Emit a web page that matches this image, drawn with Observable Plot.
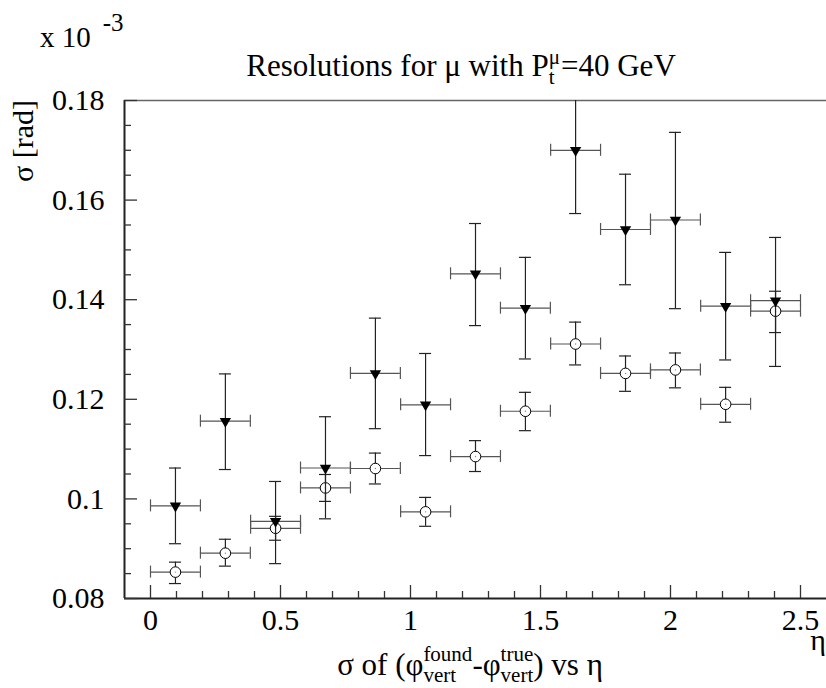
<!DOCTYPE html>
<html><head><meta charset="utf-8">
<script src="https://cdn.jsdelivr.net/npm/d3@7"></script>
<script src="https://cdn.jsdelivr.net/npm/@observablehq/plot@0.6"></script>
<style>body{margin:0;background:#fff}</style>
</head><body><div id="chart"></div>
<script>
// eta bin centres (13 bins from 0 to 2.5) and half bin width
const eta = [0.096, 0.288, 0.481, 0.673, 0.865, 1.058, 1.25, 1.442, 1.635, 1.827, 2.019, 2.212, 2.404];
const etaHalfWidth = 0.096;

// filled down-triangles
const triSigma = [0.0986, 0.1156, 0.0955, 0.1062, 0.1252, 0.1189, 0.1452, 0.1383, 0.1700, 0.1541, 0.1560, 0.1387, 0.1398];
const triLo    = [0.0910, 0.1059, 0.0870, 0.0960, 0.1141, 0.1087, 0.1348, 0.1281, 0.1573, 0.1430, 0.1382, 0.1279, 0.1266];
const triHi    = [0.1062, 0.1251, 0.1035, 0.1165, 0.1363, 0.1292, 0.1553, 0.1485, 0.1827, 0.1652, 0.1736, 0.1495, 0.1525];

// open circles
const circSigma = [0.0853, 0.0891, 0.0941, 0.1022, 0.1061, 0.0974, 0.1085, 0.1176, 0.1311, 0.1252, 0.1259, 0.1190, 0.1377];
const circLo    = [0.0830, 0.0865, 0.0917, 0.0995, 0.1030, 0.0945, 0.1055, 0.1137, 0.1269, 0.1216, 0.1223, 0.1154, 0.1334];
const circHi    = [0.0873, 0.0919, 0.0965, 0.1049, 0.1092, 0.1003, 0.1117, 0.1214, 0.1355, 0.1287, 0.1293, 0.1224, 0.1417];

// axes
const xDomain = [-0.1, 2.6];
const yDomain = [0.08, 0.18];
const xMajorTicks = [0, 0.5, 1, 1.5, 2, 2.5];
const xMinorTicks = [0.1, 0.2, 0.3, 0.4, 0.6, 0.7, 0.8, 0.9, 1.1, 1.2, 1.3, 1.4, 1.6, 1.7, 1.8, 1.9, 2.1, 2.2, 2.3, 2.4];
const yMajorTicks = [0.08, 0.10, 0.12, 0.14, 0.16, 0.18];
const yMinorTicks = [0.085, 0.09, 0.095, 0.105, 0.11, 0.115, 0.125, 0.13, 0.135, 0.145, 0.15, 0.155, 0.165, 0.17, 0.175];

const tri = eta.map((e, i) => ({eta: e, x1: e - etaHalfWidth, x2: e + etaHalfWidth, v: triSigma[i], lo: triLo[i], hi: triHi[i]}));
const circ = eta.map((e, i) => ({eta: e, x1: e - etaHalfWidth, x2: e + etaHalfWidth, v: circSigma[i], lo: circLo[i], hi: circHi[i]}));

const vCol = "#222", hCol = "#555";
function errorBars(data) {
  return [
    Plot.ruleY(data, {y: "v", x1: "x1", x2: "x2", stroke: hCol, strokeWidth: 1.2}),
    Plot.ruleX(data, {x: "x1", y1: "v", y2: "v", insetTop: -6, insetBottom: -6, stroke: hCol, strokeWidth: 1.2}),
    Plot.ruleX(data, {x: "x2", y1: "v", y2: "v", insetTop: -6, insetBottom: -6, stroke: hCol, strokeWidth: 1.2}),
    Plot.ruleX(data, {x: "eta", y1: "lo", y2: "hi", stroke: vCol, strokeWidth: 1.2, clip: true}),
    Plot.ruleY(data, {y: "hi", x1: "eta", x2: "eta", insetLeft: -6, insetRight: -6, stroke: vCol, strokeWidth: 1.2, clip: true}),
    Plot.ruleY(data, {y: "lo", x1: "eta", x2: "eta", insetLeft: -6, insetRight: -6, stroke: vCol, strokeWidth: 1.2, clip: true})
  ];
}
const fmt = d => `${d}`;

const plot = Plot.plot({
  width: 826, height: 688,
  marginTop: 100, marginBottom: 90, marginLeft: 124, marginRight: 0,
  style: {fontFamily: "'Liberation Serif', 'Times New Roman', serif", fontSize: "30px", color: "#000", background: "#fff"},
  x: {domain: xDomain},
  y: {domain: yDomain},
  marks: [
    Plot.ruleY([yDomain[1]], {stroke: "#666", strokeWidth: 1.5}),
    ...errorBars(circ),
    Plot.dot(circ, {x: "eta", y: "v", r: 5.3, fill: "white", stroke: "#000", strokeWidth: 1}),
    Plot.dot(circ, {x: "eta", y: "v", r: 0.7, fill: "#888"}),
    ...errorBars(tri),
    Plot.dot(tri, {x: "eta", y: "v", symbol: "triangle", rotate: 180, r: 4.2, fill: "#000"}),
    // axis lines
    Plot.ruleX([xDomain[0]], {stroke: "#222", strokeWidth: 2}),
    Plot.ruleY([yDomain[0]], {stroke: "#222", strokeWidth: 2}),
    // inside ticks
    Plot.ruleY(yMajorTicks, {y: d => d, x1: xDomain[0], x2: xDomain[0], insetRight: -13, stroke: "#333", strokeWidth: 1.3}),
    Plot.ruleY(yMinorTicks, {y: d => d, x1: xDomain[0], x2: xDomain[0], insetRight: -7, stroke: "#333", strokeWidth: 1.3}),
    Plot.ruleX(xMajorTicks, {x: d => d, y1: yDomain[0], y2: yDomain[0], insetTop: -13, stroke: "#333", strokeWidth: 1.3}),
    Plot.ruleX(xMinorTicks, {x: d => d, y1: yDomain[0], y2: yDomain[0], insetTop: -7, stroke: "#333", strokeWidth: 1.3}),
    Plot.axisY({ticks: yMajorTicks, tickSize: 0, tickPadding: 20, label: null, tickFormat: fmt}),
    Plot.axisX({ticks: xMajorTicks, tickSize: 0, tickPadding: 10, label: null, tickFormat: fmt})
  ]
});
document.getElementById("chart").append(plot);

const svg = d3.select(plot);
const FF = "'Liberation Serif', 'Times New Roman', serif";

function newText(x, y, size, anchor, transform) {
  const t = svg.append("text").attr("x", x).attr("y", y).attr("font-size", size)
    .attr("font-family", FF).attr("text-anchor", anchor).attr("fill", "#000");
  if (transform) t.attr("transform", transform);
  return t;
}

// top-left exponent
{
  const t = newText(40, 47, 29, "start");
  t.append("tspan").text("x 10");
  t.append("tspan").text("-3").attr("font-size", 25).attr("dx", 12).attr("dy", -16);
}

// title
{
  const t = newText(461, 76, 31, "middle");
  t.append("tspan").text("Resolutions for μ with P");
  const sup = t.append("tspan").text("μ").attr("font-size", 21).attr("dy", -12);
  const mu = sup.node().getComputedTextLength();
  const sub = t.append("tspan").text("t").attr("font-size", 21).attr("dy", 20).attr("dx", -mu);
  const tt = sub.node().getComputedTextLength();
  t.append("tspan").text("=40 GeV").attr("dy", -8).attr("dx", mu - tt + 1);
}

// y title
newText(0, 0, 30, "end", "translate(33,100) rotate(-90)").text("σ [rad]");

// eta label at the axis end
newText(826, 650, 30, "end").text("η");

// x title
{
  const t = newText(470, 675, 31, "middle");
  t.append("tspan").text("σ of (φ");
  const sup1 = t.append("tspan").text("found").attr("font-size", 21).attr("dy", -14);
  const w1 = sup1.node().getComputedTextLength();
  const sub1 = t.append("tspan").text("vert").attr("font-size", 21).attr("dy", 21).attr("dx", -w1);
  const v1 = sub1.node().getComputedTextLength();
  t.append("tspan").text("-φ").attr("dy", -7).attr("dx", w1 - v1);
  const sup2 = t.append("tspan").text("true").attr("font-size", 21).attr("dy", -14);
  const w2 = sup2.node().getComputedTextLength();
  const sub2 = t.append("tspan").text("vert").attr("font-size", 21).attr("dy", 21).attr("dx", -w2);
  const v2 = sub2.node().getComputedTextLength();
  t.append("tspan").text(") vs η").attr("dy", -7).attr("dx", Math.max(0, w2 - v2));
}
</script>
</body></html>
